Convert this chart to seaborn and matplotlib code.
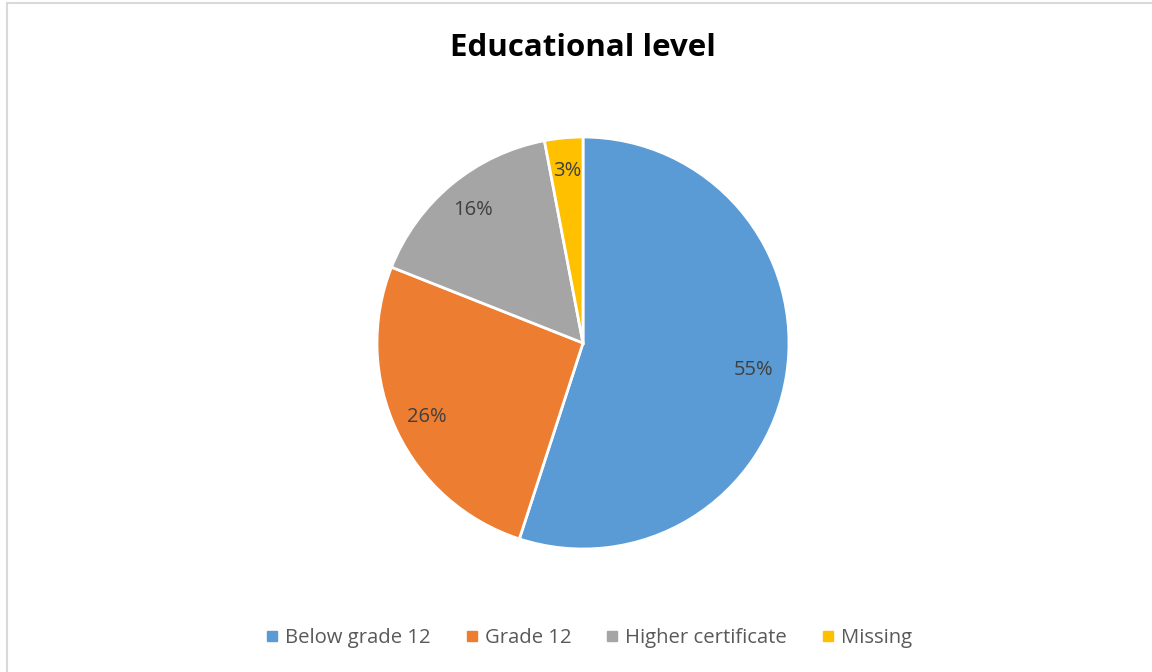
import matplotlib
matplotlib.use("Agg")
import matplotlib.pyplot as plt
from matplotlib.lines import Line2D
from matplotlib.patches import Rectangle
import seaborn as sns

# Data
categories = ["Below grade 12", "Grade 12", "Higher certificate", "Missing"]
shares = [55, 26, 16, 3]
colors = ["#5B9BD5", "#ED7D31", "#A5A5A5", "#FFC000"]

sns.set_theme(style="white")
plt.rcParams['font.family'] = ['Open Sans', 'DejaVu Sans']

fig = plt.figure(figsize=(11.52, 6.72), dpi=100)

# chart border like the Excel chart area
fig.patches.append(Rectangle((7 / 1152, -0.01), 1.02, (672 - 3) / 672 + 0.01,
                             transform=fig.transFigure, fill=False,
                             edgecolor="#d9d9d9", linewidth=1.5))

# pie axes: centre (583, 343), radius 206 px
cx, cy, r = 583, 343, 206
ax = fig.add_axes([(cx - r) / 1152, (672 - cy - r) / 672, 2 * r / 1152, 2 * r / 672])

wedges, texts, autotexts = ax.pie(
    shares, colors=colors, startangle=90, counterclock=False,
    autopct=lambda p: f"{p:.0f}%", pctdistance=0.84,
    wedgeprops=dict(edgecolor="white", linewidth=2),
    textprops=dict(color="#404040", fontsize=14.5),
)
ax.set_xlim(-1, 1)
ax.set_ylim(-1, 1)
ax.set_aspect("equal")

fig.text(cx / 1152, 1 - 48 / 672, "Educational level", ha="center", va="center",
         fontsize=22.5, fontweight="bold", color="black")

handles = [Line2D([], [], marker="s", linestyle="", markersize=7.5,
                  markerfacecolor=c, markeredgecolor=c) for c in colors]
fig.legend(handles, categories, loc="center", bbox_to_anchor=(587 / 1152, 1 - 638 / 672),
           ncol=4, frameon=False, fontsize=14.6, labelcolor="#595959",
           handletextpad=0.15, columnspacing=1.5, handlelength=1.0)

fig.savefig("out.png", dpi=100)
